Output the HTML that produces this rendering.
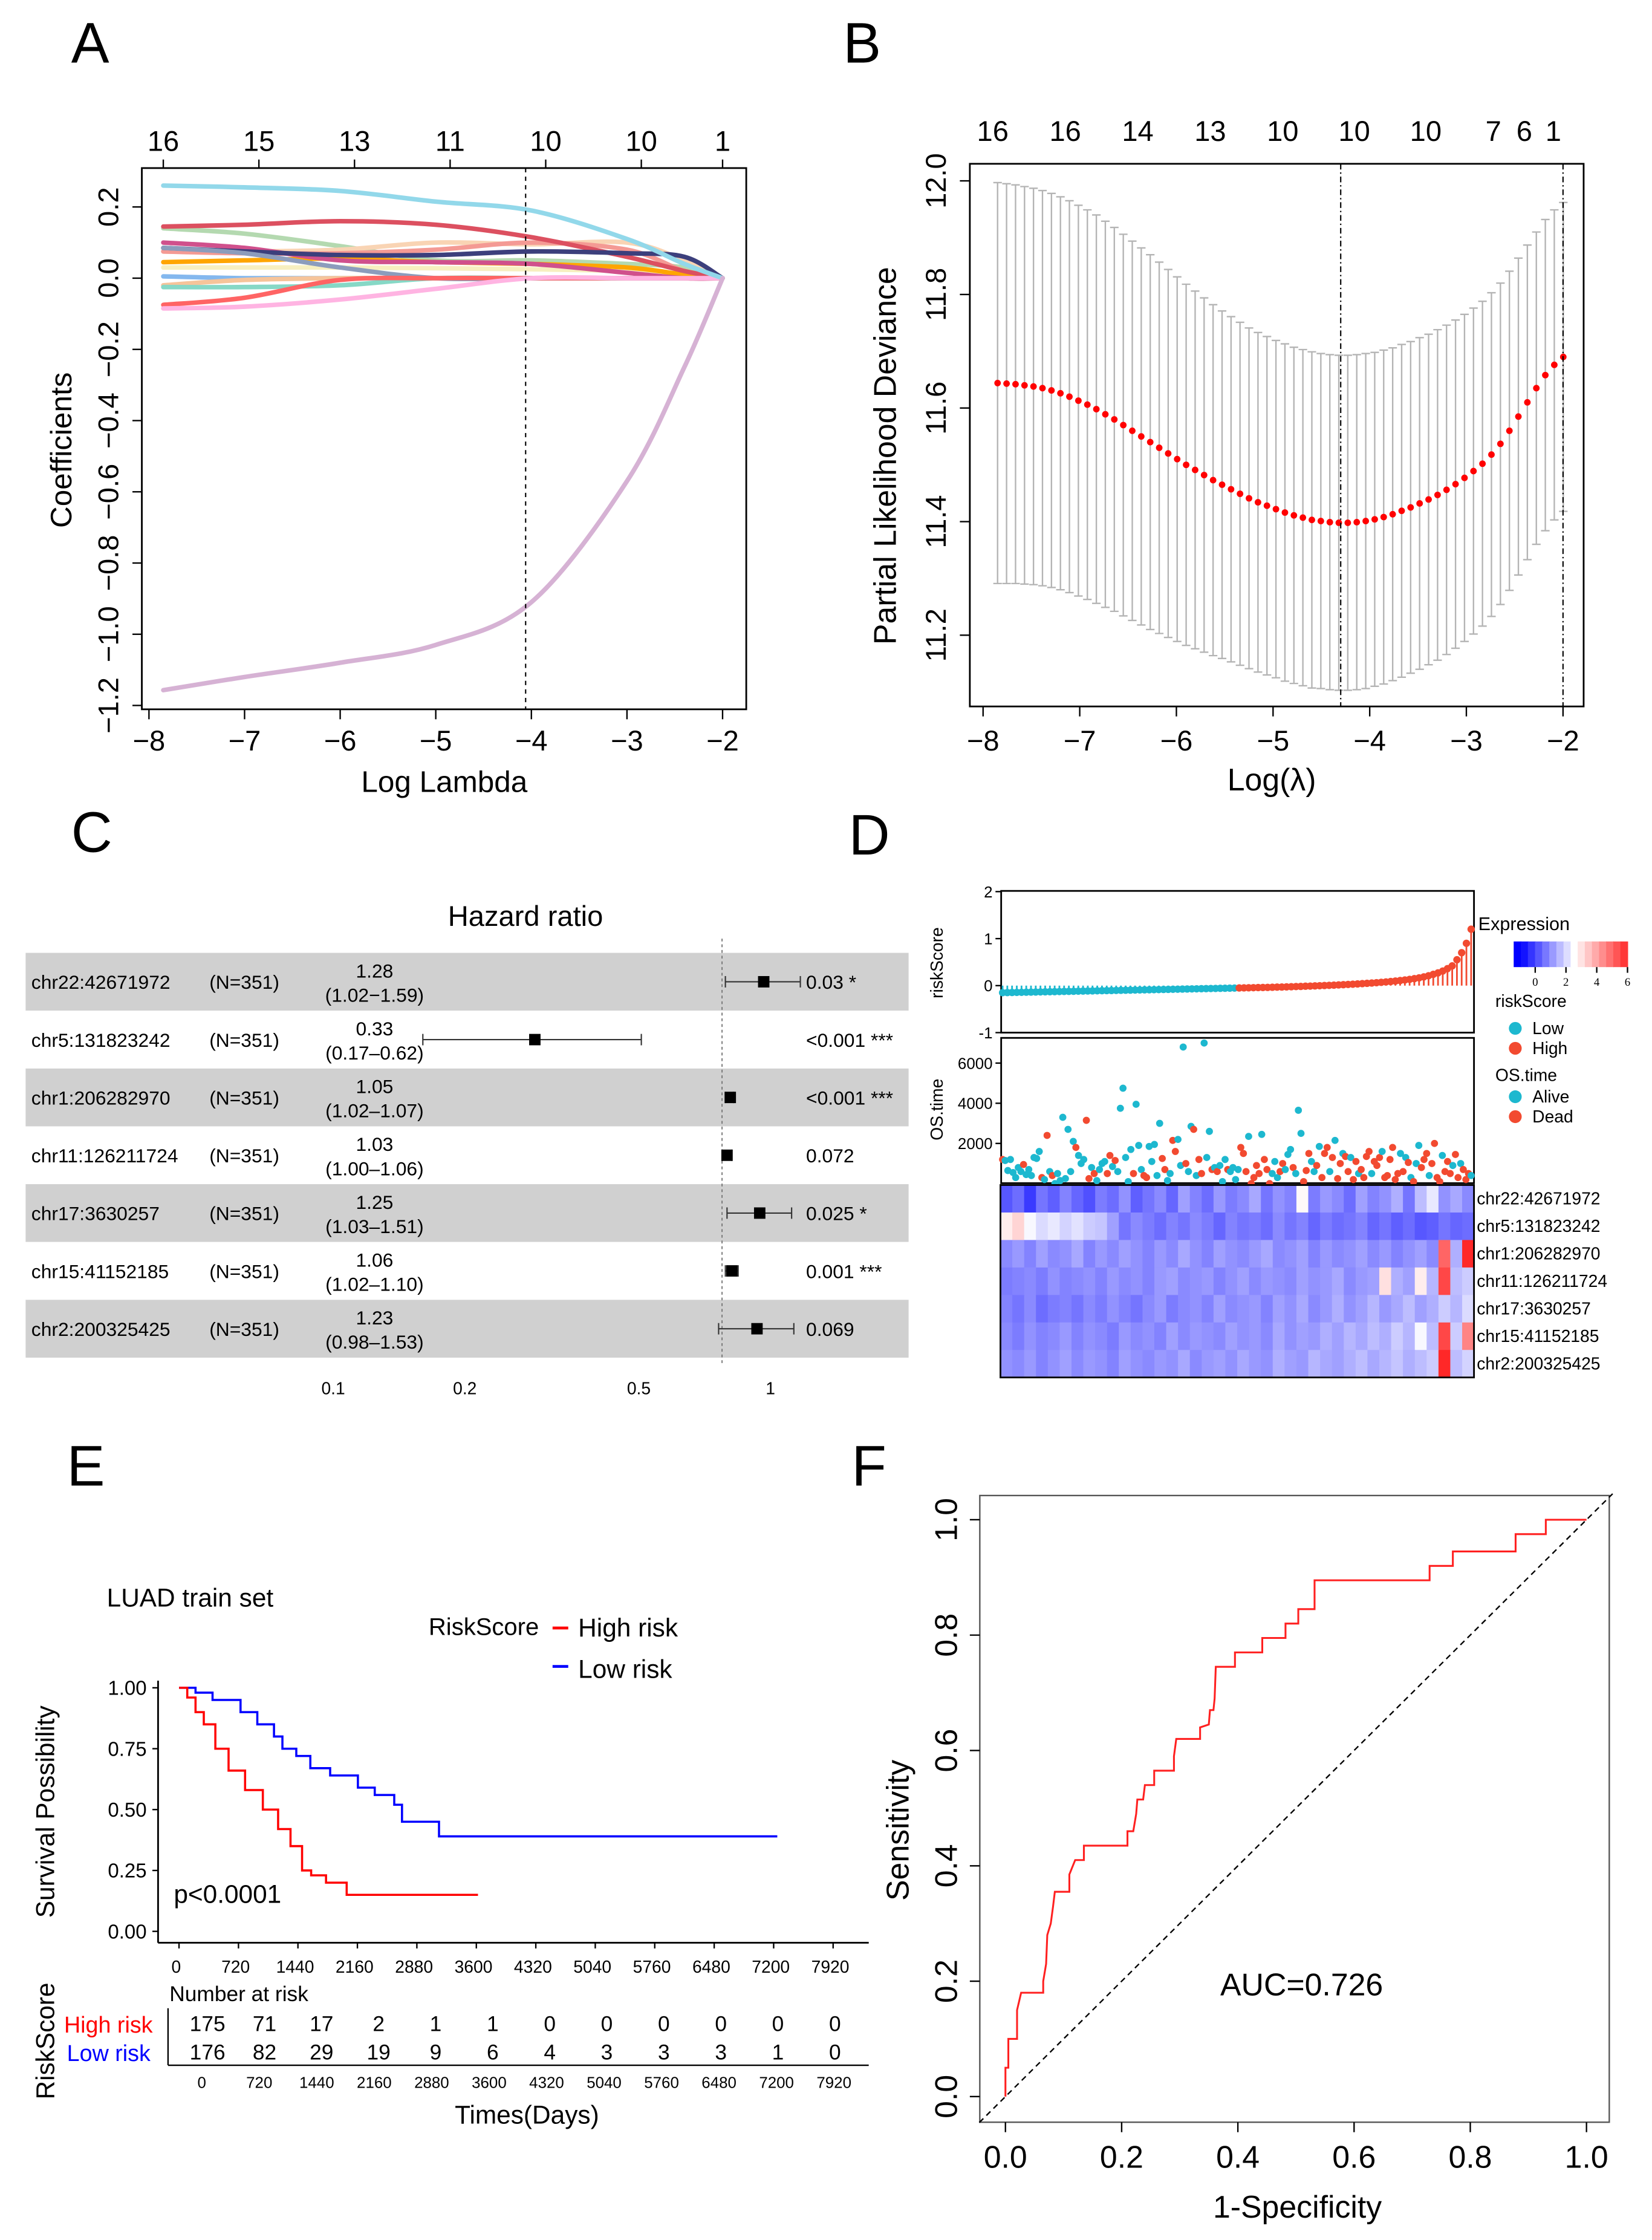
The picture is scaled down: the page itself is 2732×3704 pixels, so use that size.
<!DOCTYPE html>
<html><head><meta charset="utf-8"><style>
html,body{margin:0;padding:0;background:#fff;}
svg{display:block;font-family:"Liberation Sans",Arial,sans-serif;}
</style></head><body>
<svg id="fig" xmlns="http://www.w3.org/2000/svg" width="2732" height="3704" viewBox="0 0 1160 1572.7" preserveAspectRatio="none">
<rect x="0" y="0" width="1160" height="1573" fill="#fff"/>
<g font-size="40">
<text x="50" y="44">A</text>
<text x="592" y="44">B</text>
<text x="50" y="598">C</text>
<text x="596" y="600">D</text>
<text x="47" y="1043">E</text>
<text x="598" y="1043">F</text>
</g>
<!-- Panel A static -->
<rect x="99.6" y="118" width="424.4" height="380" fill="none" stroke="#000" stroke-width="1.2"/>
<text x="312" y="556" font-size="21" text-anchor="middle">Log Lambda</text>
<text transform="translate(50,316) rotate(-90)" font-size="21" text-anchor="middle">Coefficients</text>
<!-- Panel B static -->
<rect x="681" y="115" width="431" height="381" fill="none" stroke="#000" stroke-width="1.2"/>
<text x="893" y="555" font-size="22" text-anchor="middle">Log(λ)</text>
<text transform="translate(629,320) rotate(-90)" font-size="22" text-anchor="middle">Partial Likelihood Deviance</text>
<!-- Panel C static -->
<text x="369" y="650" font-size="20" text-anchor="middle">Hazard ratio</text>
<!-- Panel D static -->
<text transform="translate(662,676) rotate(-90)" font-size="12" text-anchor="middle">riskScore</text>
<text transform="translate(662,779) rotate(-90)" font-size="12" text-anchor="middle">OS.time</text>
<rect x="703" y="625.5" width="332" height="99.5" fill="none" stroke="#000" stroke-width="1.2"/>
<rect x="703" y="728.7" width="332" height="102" fill="none" stroke="#000" stroke-width="1.2"/>
<g font-size="12">
<text x="1038" y="653" font-size="13">Expression</text>
<text x="1050" y="707">riskScore</text>
<circle cx="1064" cy="722" r="4.5" fill="#1db8cf"/>
<text x="1076" y="726">Low</text>
<circle cx="1064" cy="736" r="4.5" fill="#f24a30"/>
<text x="1076" y="740">High</text>
<text x="1050" y="759">OS.time</text>
<circle cx="1064" cy="770" r="4.5" fill="#1db8cf"/>
<text x="1076" y="774">Alive</text>
<circle cx="1064" cy="784" r="4.5" fill="#f24a30"/>
<text x="1076" y="788">Dead</text>
</g>
<!-- Panel E static -->
<text x="75" y="1128" font-size="18">LUAD train set</text>
<text x="301" y="1148" font-size="17">RiskScore</text>
<line x1="388" y1="1143" x2="399" y2="1143" stroke="#ff0000" stroke-width="2"/>
<text x="406" y="1149" font-size="18">High risk</text>
<line x1="388" y1="1170" x2="399" y2="1170" stroke="#0000ff" stroke-width="2"/>
<text x="406" y="1178" font-size="18">Low risk</text>
<text transform="translate(38,1272) rotate(-90)" font-size="18" text-anchor="middle">Survival Possibility</text>
<line x1="111" y1="1180" x2="111" y2="1364" stroke="#000" stroke-width="1.2"/>
<line x1="111" y1="1364" x2="610" y2="1364" stroke="#000" stroke-width="1.2"/>
<text x="122" y="1336" font-size="18">p&lt;0.0001</text>
<text x="119" y="1405" font-size="15">Number at risk</text>
<text transform="translate(38,1433) rotate(-90)" font-size="18" text-anchor="middle">RiskScore</text>
<text x="45" y="1427" font-size="16" fill="#ff0000">High risk</text>
<text x="47" y="1447" font-size="16" fill="#0000ff">Low risk</text>
<line x1="118" y1="1410" x2="118" y2="1450" stroke="#000" stroke-width="1"/>
<line x1="118" y1="1450" x2="610" y2="1450" stroke="#000" stroke-width="1"/>
<text x="370" y="1491" font-size="18" text-anchor="middle">Times(Days)</text>
<!-- Panel F static -->
<rect x="688" y="1050" width="442" height="440" fill="none" stroke="#555" stroke-width="1"/>
<text transform="translate(638,1285) rotate(-90)" font-size="22" text-anchor="middle">Sensitivity</text>
<text x="911" y="1557" font-size="22" text-anchor="middle">1-Specificity</text>
<text x="914" y="1401" font-size="22" text-anchor="middle">AUC=0.726</text>
<g id="dyn"></g>
</svg>
<script>
// ---------- Panel A data ----------
const aLambda=[-7.85,-7,-6,-5,-4,-3,-2.4,-2];
const aCoefLightblue=[0.26,0.255,0.245,0.215,0.19,0.11,0.04,0];
const aCoefRed=[0.145,0.15,0.16,0.15,0.115,0.06,0.02,0];
const aCoefGreen=[0.14,0.125,0.09,0.05,0.05,0.04,0.03,0];
const aCoefMagenta=[0.1,0.085,0.05,0.045,0.04,0.015,0,0];
const aCoefNavy=[0.085,0.075,0.065,0.065,0.075,0.07,0.06,0];
const aCoefOrange=[0.045,0.05,0.055,0.045,0.04,0.03,0.01,0];
const aCoefPeach=[0.075,0.075,0.08,0.1,0.095,0.1,0.05,0];
const aCoefSalmon=[0.075,0.07,0.07,0.08,0.1,0.08,0.02,0];
const aCoefYellow=[0.03,0.03,0.03,0.028,0.025,0.02,0.01,0];
const aCoefSteel=[0.085,0.07,0.03,0,0,0,0,0];
const aCoefSky=[0.005,0,0,0,0,0,0,0];
const aCoefTan=[-0.02,-0.005,0,0,0,0,0,0];
const aCoefMint=[-0.025,-0.025,-0.02,0,0,0,0,0];
const aCoefRed2=[-0.075,-0.055,-0.005,0,0,0,0,0];
const aCoefPink=[-0.085,-0.08,-0.06,-0.03,0,0,0,0];
const aCoefMauve=[-1.157,-1.12,-1.08,-1.03,-0.91,-0.57,-0.25,0];
const aXTicks=[-8,-7,-6,-5,-4,-3,-2];
const aYTicks=[0.2,0.0,-0.2,-0.4,-0.6,-0.8,-1.0,-1.2];
const aYTickLabels=["0.2","0.0","−0.2","−0.4","−0.6","−0.8","−1.0","−1.2"];
const aTopTicks=[-7.85,-6.85,-5.85,-4.85,-3.85,-2.85,-2];
const aTopLabels=["16","15","13","11","10","10","1"];
const aCutoff=-4.06;
// ---------- Panel B data ----------
const bStart=-7.85, bStep=0.0929;
const bMean=[11.644,11.643,11.642,11.640,11.638,11.635,11.631,11.626,11.620,11.613,11.606,
11.598,11.589,11.580,11.570,11.560,11.550,11.540,11.530,11.520,11.510,
11.500,11.491,11.482,11.473,11.465,11.457,11.449,11.441,11.434,11.428,
11.422,11.416,11.411,11.407,11.403,11.401,11.399,11.398,11.398,11.399,
11.401,11.404,11.408,11.413,11.419,11.425,11.432,11.439,11.447,11.456,
11.466,11.477,11.489,11.502,11.518,11.537,11.56,11.585,11.61,11.635,11.658,11.676,11.69];
const bSd=[.353,.352,.351,.350,.349,.348,.347,.346,.345,.344,.343,
.342,.340,.338,.336,.334,.332,.330,.327,.324,.321,
.318,.315,.312,.309,.306,.304,.302,.300,.299,.298,
.297,.297,.296,.296,.296,.295,.295,.295,.295,.295,
.295,.294,.294,.293,.293,.292,.292,.291,.291,.290,
.289,.288,.287,.286,.285,.283,.281,.279,.277,.275,.274,.273,.272];
const bXTicks=[-8,-7,-6,-5,-4,-3,-2];
const bYTicks=[11.2,11.4,11.6,11.8,12.0];
const bTopTicks=[-7.9,-7.15,-6.4,-5.65,-4.9,-4.16,-3.42,-2.72,-2.4,-2.1];
const bTopLabels=["16","16","14","13","10","10","10","7","6","1"];
const bCutMin=-4.3, bCut1se=-2.0;
// ---------- Panel C data ----------
const cGenes=["chr22:42671972","chr5:131823242","chr1:206282970","chr11:126211724","chr17:3630257","chr15:41152185","chr2:200325425"];
const cHR=[1.28,0.33,1.05,1.03,1.25,1.06,1.23];
const cLow=[1.02,0.17,1.02,1.00,1.03,1.02,0.98];
const cHigh=[1.59,0.62,1.07,1.06,1.51,1.10,1.53];
const cHRText=["1.28","0.33","1.05","1.03","1.25","1.06","1.23"];
const cCIText=["(1.02−1.59)","(0.17–0.62)","(1.02–1.07)","(1.00–1.06)","(1.03–1.51)","(1.02–1.10)","(0.98–1.53)"];
const cPText=["0.03 *","<0.001 ***","<0.001 ***","0.072","0.025 *","0.001 ***","0.069"];
const cTicks=[0.1,0.2,0.5,1];
const cTickLabels=["0.1","0.2","0.5","1"];
// ---------- Panel D data ----------
const dRisk=[-0.15,-0.148,-0.146,-0.144,-0.142,-0.14,-0.138,-0.136,-0.134,-0.132,-0.13,-0.128,-0.126,-0.124,-0.122,-0.12,-0.118,-0.116,-0.114,-0.112,-0.11,-0.108,-0.106,-0.104,-0.102,-0.1,-0.098,-0.096,-0.094,-0.092,-0.09,-0.088,-0.086,-0.084,-0.082,-0.08,-0.078,-0.076,-0.074,-0.072,-0.07,-0.068,-0.066,-0.064,-0.062,-0.06,-0.058,-0.056,-0.054,-0.052,
-0.05,-0.048,-0.046,-0.044,-0.042,-0.04,-0.038,-0.035,-0.032,-0.03,-0.027,-0.024,-0.02,-0.017,-0.013,-0.01,-0.006,-0.002,0.002,0.006,0.01,0.015,0.02,0.025,0.03,0.036,0.042,0.048,0.055,0.062,0.07,0.078,0.087,0.097,0.108,0.12,0.133,0.148,0.165,0.185,0.21,0.24,0.27,0.31,0.36,0.42,0.55,0.7,0.9,1.2];
const dRiskLowCount=50;
const dRiskTicks=[2,1,0,-1];
const dOsTime=[1200,1150,650,1200,550,300,800,600,950,450,
700,400,1300,1250,1600,300,200,2400,600,400,
0,500,150,3300,250,2700,600,2100,1800,1400,
1000,1200,3150,250,800,500,150,700,1000,1100,
500,1400,850,1150,600,3750,4750,1300,100,1700,
500,3950,1900,700,400,300,1850,1100,1950,400,
3000,1250,700,150,500,2150,1600,2200,900,6800,
1000,600,2850,2700,400,1200,500,7000,1300,2600,
700,800,600,900,100,1200,700,600,800,200,
700,1800,1500,600,2350,0,300,900,500,2450,
1200,700,0,500,1100,300,600,1000,700,1450,
1700,800,500,3650,2500,100,650,1500,1100,600,
900,1850,300,1500,1800,600,1300,2150,250,1000,
1500,1350,600,1300,200,1100,500,700,300,1350,
1600,500,1100,900,1300,1600,300,400,1200,1800,
200,500,1500,600,1300,1050,300,100,1000,1900,
800,1200,1500,400,1000,2000,300,100,1400,600,
1100,500,900,1450,300,1000,700,200,500,400];
const dOsDead=[1,0,0,0,0,0,0,0,1,0, 0,0,0,0,0,1,0,1,0,1, 0,0,0,0,0,0,0,0,1,0, 0,0,1,1,0,1,0,0,0,0,
1,1,0,1,0,0,0,0,0,0, 1,0,0,0,1,1,0,0,0,0, 0,1,1,0,0,1,1,0,0,0, 1,0,0,1,0,1,1,0,0,0,
1,0,1,0,0,0,1,0,0,0, 0,1,1,1,0,1,1,1,1,0, 1,1,1,0,0,0,1,1,0,0, 0,1,0,0,0,1,1,1,0,0,
1,0,1,1,1,0,1,0,1,1, 0,1,1,0,1,1,0,1,1,1, 1,0,1,1,1,0,1,1,1,1, 1,1,0,1,0,1,0,1,0,0,
1,1,1,0,1,1,1,1,0,1, 1,1,0,1,1,0,1,1,1,0];
const dOsTicks=[2000,4000,6000];
const dGenes=["chr22:42671972","chr5:131823242","chr1:206282970","chr11:126211724","chr17:3630257","chr15:41152185","chr2:200325425"];
const dHeatR1=[0.2,0.5,-0.2,0.6,0.3,0.8,0.4,0.1,0.7,0.5,1.0,0.3,0.6,0.9,0.4,1.2,0.8,0.5,1.1,0.7,0.9,1.3,0.6,1.0,0.8,2.6,0.7,1.1,0.9,0.5,1.2,0.8,1.0,1.4,0.6,1.6,2.2,1.0,1.3,0.9];
const dHeatR2=[2.8,3.2,2.4,2.0,2.2,1.9,2.1,1.8,1.7,1.2,0.6,0.9,0.7,0.5,0.8,0.6,0.9,0.7,0.4,0.8,0.6,0.7,0.5,0.9,0.6,0.8,0.4,0.7,0.5,0.6,0.8,0.4,0.6,0.3,0.5,0.2,0.3,0.6,0.4,0.5];
const dHeatR3=[0.9,1.1,0.8,1.2,0.9,1.0,1.3,0.8,1.1,0.9,1.2,1.0,0.8,1.1,0.9,1.3,1.0,0.8,1.2,1.0,0.9,1.1,1.3,0.9,1.0,1.2,0.8,1.1,0.9,1.0,1.2,0.9,1.1,0.8,1.0,1.2,0.9,5.0,1.4,6.0];
const dHeatR4=[0.7,0.8,0.9,0.7,1.0,0.8,0.9,1.0,0.8,1.1,0.9,1.0,0.8,1.1,1.2,0.9,1.0,1.1,0.8,1.0,1.2,0.9,1.1,1.0,0.9,1.2,1.0,1.1,1.3,0.9,1.1,1.2,3.0,1.4,1.2,2.8,1.5,5.5,1.6,1.8];
const dHeatR5=[0.8,0.6,0.9,0.5,0.7,0.8,0.6,0.9,0.7,1.0,0.8,0.6,0.9,1.1,0.7,0.9,1.0,0.8,1.2,0.9,1.0,1.1,0.8,1.2,1.0,1.3,0.9,1.1,1.4,1.0,1.2,1.5,1.1,1.3,1.6,1.2,1.4,1.8,1.5,2.0];
const dHeatR6=[0.9,0.7,1.0,0.8,0.9,1.1,0.8,1.0,0.9,0.7,1.1,0.9,1.0,0.8,1.2,0.9,1.1,1.0,0.9,1.2,1.0,1.1,0.9,1.3,1.0,1.2,1.1,1.4,1.2,1.5,1.3,1.6,1.4,1.8,1.5,2.4,1.6,5.5,1.8,4.5];
const dHeatR7=[1.0,0.9,1.1,0.8,1.0,1.2,0.9,1.1,1.0,0.8,1.2,1.0,0.9,1.1,1.0,1.3,0.9,1.1,1.2,1.0,1.3,1.1,1.0,1.4,1.2,1.1,1.5,1.3,1.2,1.4,1.6,1.3,1.5,1.7,1.4,1.6,1.8,6.0,1.6,1.9];
const dLegendTicks=[0,2,4,6];
// ---------- Panel E data ----------
const eHighDays=[0,100,200,300,440,600,800,1015,1200,1350,1490,1600,1780,2030,3620];
const eHighSurv=[1,0.96,0.9,0.85,0.75,0.66,0.58,0.5,0.42,0.35,0.25,0.23,0.2,0.15,0.15];
const eLowDays=[0,200,406,745,948,1150,1252,1420,1590,1830,2166,2370,2606,2700,3148,7244];
const eLowSurv=[1,0.98,0.95,0.9,0.85,0.8,0.75,0.72,0.67,0.64,0.59,0.56,0.52,0.45,0.39,0.39];
const eXTicks=[0,720,1440,2160,2880,3600,4320,5040,5760,6480,7200,7920];
const eYTicks=[0,0.25,0.5,0.75,1];
const eYTickLabels=["0.00","0.25","0.50","0.75","1.00"];
const eRiskHigh=[175,71,17,2,1,1,0,0,0,0,0,0];
const eRiskLow=[176,82,29,19,9,6,4,3,3,3,1,0];
// ---------- Panel F data ----------
const fFpr=[0,0,0.005,0.005,0.02,0.02,0.027,0.065,0.065,0.07,0.072,0.078,0.082,0.085,0.11,0.11,0.12,0.135,0.135,0.21,0.21,0.22,0.225,0.227,0.237,0.24,0.256,0.256,0.29,0.29,0.294,0.335,0.335,0.35,0.352,0.358,0.36,0.362,0.395,0.395,0.442,0.442,0.482,0.482,0.504,0.504,0.532,0.532,0.73,0.73,0.77,0.77,0.878,0.878,0.93,0.93,1];
const fTpr=[0,0.05,0.05,0.1,0.1,0.15,0.18,0.18,0.2,0.23,0.28,0.3,0.33,0.355,0.355,0.385,0.41,0.41,0.435,0.435,0.46,0.46,0.49,0.515,0.515,0.54,0.54,0.565,0.565,0.59,0.62,0.62,0.64,0.645,0.67,0.67,0.69,0.745,0.745,0.77,0.77,0.795,0.795,0.82,0.82,0.845,0.845,0.895,0.895,0.92,0.92,0.945,0.945,0.975,0.975,1,1];
const fTicks=[0,0.2,0.4,0.6,0.8,1.0];
const fTickLabels=["0.0","0.2","0.4","0.6","0.8","1.0"];

const NS="http://www.w3.org/2000/svg";
const root=document.getElementById('dyn');
function mk(tag,attrs,txt){const e=document.createElementNS(NS,tag);for(const k in attrs)e.setAttribute(k,attrs[k]);if(txt!==undefined)e.textContent=txt;root.appendChild(e);return e;}
function smoothPath(pts){let d="M"+pts[0][0]+","+pts[0][1];for(let i=0;i<pts.length-1;i++){const p0=pts[i-1]||pts[i],p1=pts[i],p2=pts[i+1],p3=pts[i+2]||p2;const c1x=p1[0]+(p2[0]-p0[0])/6,c1y=p1[1]+(p2[1]-p0[1])/6,c2x=p2[0]-(p3[0]-p1[0])/6,c2y=p2[1]-(p3[1]-p1[1])/6;d+=" C"+c1x+","+c1y+" "+c2x+","+c2y+" "+p2[0]+","+p2[1];}return d;}

// ===== Panel A =====
const ax=v=>104.6+(v+8)*67.13, ay=v=>195.3-v*250;
const aSeries=[[aCoefYellow,"#f7efc0"],[aCoefSky,"#84b8ee"],[aCoefTan,"#f6c49a"],[aCoefMint,"#86d8c6"],[aCoefGreen,"#b4d9b0"],[aCoefPeach,"#f9d4b4"],[aCoefSalmon,"#f49a94"],[aCoefOrange,"#ffa500"],[aCoefMagenta,"#d0508c"],[aCoefRed,"#dc5060"],[aCoefNavy,"#3c3f7c"],[aCoefSteel,"#8c9cbc"],[aCoefRed2,"#ff6464"],[aCoefPink,"#ffb4e2"],[aCoefLightblue,"#92d8ea"],[aCoefMauve,"#d6b2d4"]];
aSeries.forEach((s,si)=>{const pts=aLambda.map((l,i)=>[ax(l),ay(s[0][i])]);
const p=mk('path',{d:smoothPath(pts),fill:"none",stroke:s[1],"stroke-width":3.2,"stroke-linecap":"round"});

});
{const l=mk('line',{x1:ax(aCutoff),y1:118,x2:ax(aCutoff),y2:498,stroke:"#000","stroke-width":0.9,"stroke-dasharray":"3,3"});

}
aXTicks.forEach(v=>{const t=mk('line',{x1:ax(v),y1:498,x2:ax(v),y2:505,stroke:"#000"});


const tx=mk('text',{x:ax(v),y:527,"font-size":20,"text-anchor":"middle"},(v<0?"−":"")+Math.abs(v));

});
aYTicks.forEach((v,i)=>{const t=mk('line',{x1:93,y1:ay(v),x2:99.6,y2:ay(v),stroke:"#000"});


const tx=mk('text',{transform:"translate(83,"+ay(v)+") rotate(-90)","font-size":20,"text-anchor":"middle"},aYTickLabels[i]);

});
aTopTicks.forEach((v,i)=>{const t=mk('line',{x1:ax(v),y1:112,x2:ax(v),y2:118,stroke:"#000"});


const tx=mk('text',{x:ax(v),y:106,"font-size":20,"text-anchor":"middle"},aTopLabels[i]);

});

// ===== Panel B =====
const bx=v=>690.3+(v+8)*67.87, by=v=>127+(12-v)*398.7;
bMean.forEach((m,i)=>{const lam=bStart+i*bStep,x=bx(lam),yu=by(m+bSd[i]),yl=by(m-bSd[i]);
const e=mk('path',{d:"M"+x+","+yu+"V"+yl+"M"+(x-3)+","+yu+"H"+(x+3)+"M"+(x-3)+","+yl+"H"+(x+3),stroke:"#b4b4b4","stroke-width":1,fill:"none"});

});
bMean.forEach((m,i)=>{const lam=bStart+i*bStep;
const c=mk('circle',{cx:bx(lam),cy:by(m),r:2.3,fill:"#ff0000"});

});
[bCutMin,bCut1se].forEach(v=>{const l=mk('line',{x1:bx(v),y1:115,x2:bx(v),y2:496,stroke:"#000","stroke-width":0.9,"stroke-dasharray":"4,2,1,2"});

});
bXTicks.forEach(v=>{const t=mk('line',{x1:bx(v),y1:496,x2:bx(v),y2:503,stroke:"#000"});


const tx=mk('text',{x:bx(v),y:527,"font-size":20,"text-anchor":"middle"},(v<0?"−":"")+Math.abs(v));

});
bYTicks.forEach(v=>{const t=mk('line',{x1:674,y1:by(v),x2:681,y2:by(v),stroke:"#000"});


const tx=mk('text',{transform:"translate(664,"+by(v)+") rotate(-90)","font-size":20,"text-anchor":"middle"},v.toFixed(1));

});
bTopTicks.forEach((v,i)=>{const tx=mk('text',{x:bx(v),y:99,"font-size":20,"text-anchor":"middle"},bTopLabels[i]);

});

// ===== Panel C =====
const cx=v=>507+Math.log10(v)*273, cLab=v=>234+Math.log10(v/0.1)*307;
const rowTop=669,rowH=40.6;
{const w=mk('rect',{x:18,y:rowTop-12,width:620,height:12,fill:"#fff"});

}
cGenes.forEach((g,i)=>{const y0=rowTop+i*rowH,yc=y0+rowH/2;
const r=mk('rect',{x:18,y:y0,width:620,height:rowH,fill:i%2===0?"#d0d0d0":"#ffffff"});


const n=mk('text',{x:22,y:yc+5,"font-size":13.5},g);


const nn=mk('text',{x:147,y:yc+5,"font-size":13.5},"(N=351)");


const h=mk('text',{x:263,y:yc-3,"font-size":13.5,"text-anchor":"middle"},cHRText[i]);


const ci=mk('text',{x:263,y:yc+14,"font-size":13.5,"text-anchor":"middle"},cCIText[i]);


const p=mk('text',{x:566,y:yc+5,"font-size":13.5},cPText[i]);

});
{const l=mk('line',{x1:cx(1),y1:rowTop-10,x2:cx(1),y2:rowTop+7*rowH+4,stroke:"#777","stroke-width":0.8,"stroke-dasharray":"2,2"});

}
cGenes.forEach((g,i)=>{const yc=rowTop+i*rowH+rowH/2;
const e=mk('path',{d:"M"+cx(cLow[i])+","+yc+"H"+cx(cHigh[i])+"M"+cx(cLow[i])+","+(yc-4)+"V"+(yc+4)+"M"+cx(cHigh[i])+","+(yc-4)+"V"+(yc+4),stroke:"#333","stroke-width":0.9,fill:"none"});


const b=mk('rect',{x:cx(cHR[i])-4,y:yc-4,width:8,height:8,fill:"#000"});

});
cTicks.forEach((v,i)=>{const tx=mk('text',{x:cLab(v),y:979,"font-size":12,"text-anchor":"middle"},cTickLabels[i]);

});

// ===== Panel D =====
const dxL=704,dxR=1033;
const rsy=v=>692-v*33, osy=t=>831-t*0.0141;
dRisk.forEach((v,i)=>{const x=dxL+i*(dxR-dxL)/(dRisk.length-1),col=i<dRiskLowCount?"#1db8cf":"#f24a30";
const l=mk('line',{x1:x,y1:rsy(0),x2:x,y2:rsy(v),stroke:col,"stroke-width":1.2});


const c=mk('circle',{cx:x,cy:rsy(v),r:2.6,fill:col});

});
dRiskTicks.forEach(v=>{const t=mk('line',{x1:699,y1:rsy(v),x2:703,y2:rsy(v),stroke:"#000"});


const tx=mk('text',{x:697,y:rsy(v)+4,"font-size":11,"text-anchor":"end"},String(v));

});
dOsTime.forEach((t,i)=>{const x=dxL+i*(dxR-dxL)/(dOsTime.length-1);
const c=mk('circle',{cx:x,cy:osy(t),r:2.5,fill:dOsDead[i]?"#f24a30":"#1db8cf"});

});
dOsTicks.forEach(v=>{const t=mk('line',{x1:699,y1:osy(v),x2:703,y2:osy(v),stroke:"#000"});


const tx=mk('text',{x:697,y:osy(v)+4,"font-size":11,"text-anchor":"end"},String(v));

});
function heatColor(v){const b=[0,0,255],w=[255,255,255],r=[255,40,40];let a,c,t;if(v<2.5){t=Math.max(0,(v+1)/3.5);a=b;c=w;}else{t=Math.min(1,(v-2.5)/3.5);a=w;c=r;}return "rgb("+a.map((x,k)=>Math.round(x+(c[k]-x)*t)).join(",")+")";}
const dHeat=[dHeatR1,dHeatR2,dHeatR3,dHeatR4,dHeatR5,dHeatR6,dHeatR7];
const hx0=702.5,hx1=1035,hy0=832,hRow=19.3;
dHeat.forEach((row,ri)=>{const cw=(hx1-hx0)/row.length;row.forEach((v,ci)=>{
const r=mk('rect',{x:hx0+ci*cw,y:hy0+ri*hRow,width:cw+0.4,height:hRow+0.3,fill:heatColor(v)});

});
const lab=mk('text',{x:1037,y:hy0+ri*hRow+hRow/2+4,"font-size":12},dGenes[ri]);

});
{const b=mk('rect',{x:hx0,y:hy0,width:hx1-hx0,height:7*hRow,fill:"none",stroke:"#000","stroke-width":1.2});

}
const lgX=v=>1078+v*10.8;
for(let k=0;k<16;k++){const v=-1.4+k*7.4/16;const r=mk('rect',{x:lgX(v),y:661,width:7.4*10.8/16+0.4,height:18,fill:heatColor(v+0.2)});

}
dLegendTicks.forEach(v=>{const t=mk('line',{x1:lgX(v),y1:679,x2:lgX(v),y2:683,stroke:"#000"});


const tx=mk('text',{x:lgX(v),y:692,"font-size":8,"text-anchor":"middle","font-family":"Liberation Serif"},String(v));

});

// ===== Panel E =====
const ex=d=>125.7+d*(459.3/7920), ey=s=>1356-s*171;
function stepPath(days,surv){let d="M"+ex(days[0])+","+ey(surv[0]);for(let i=1;i<days.length;i++){d+="H"+ex(days[i])+"V"+ey(surv[i]);}return d;}
{const p=mk('path',{d:stepPath(eLowDays,eLowSurv),fill:"none",stroke:"#0000ff","stroke-width":1.5});


const q=mk('path',{d:stepPath(eHighDays,eHighSurv),fill:"none",stroke:"#ff0000","stroke-width":1.5});

}
eXTicks.forEach((v,i)=>{const t=mk('line',{x1:ex(v),y1:1364,x2:ex(v),y2:1368,stroke:"#000"});


const tx=mk('text',{x:ex(v)-2,y:1385,"font-size":12,"text-anchor":"middle"},String(v));


const h=mk('text',{x:ex(v)+20-i*1.7,y:1426,"font-size":15,"text-anchor":"middle"},String(eRiskHigh[i]));


const l=mk('text',{x:ex(v)+20-i*1.7,y:1446,"font-size":15,"text-anchor":"middle"},String(eRiskLow[i]));


const b=mk('text',{x:ex(v)+16-i*1.4,y:1466,"font-size":11,"text-anchor":"middle"},String(v));

});
eYTicks.forEach((v,i)=>{const t=mk('line',{x1:107,y1:ey(v),x2:111,y2:ey(v),stroke:"#000"});


const tx=mk('text',{x:103,y:ey(v)+5,"font-size":14,"text-anchor":"end"},eYTickLabels[i]);

});

// ===== Panel F =====
const fx=v=>706+v*408, fy=v=>1472-v*405;
{const d=mk('line',{x1:fx(-0.045),y1:fy(-0.045),x2:fx(1.045),y2:fy(1.045),stroke:"#000","stroke-width":1,"stroke-dasharray":"4,3"});


const p=mk('polyline',{points:fFpr.map((v,i)=>fx(v)+","+fy(fTpr[i])).join(" "),fill:"none",stroke:"#ff2020","stroke-width":1.3});

}
fTicks.forEach((v,i)=>{const t=mk('line',{x1:fx(v),y1:1490,x2:fx(v),y2:1497,stroke:"#000"});


const tx=mk('text',{x:fx(v),y:1522,"font-size":22,"text-anchor":"middle"},fTickLabels[i]);


const u=mk('line',{x1:681,y1:fy(v),x2:688,y2:fy(v),stroke:"#000"});


const ty=mk('text',{transform:"translate(672,"+fy(v)+") rotate(-90)","font-size":22,"text-anchor":"middle"},fTickLabels[i]);

});
</script>
</body></html>
